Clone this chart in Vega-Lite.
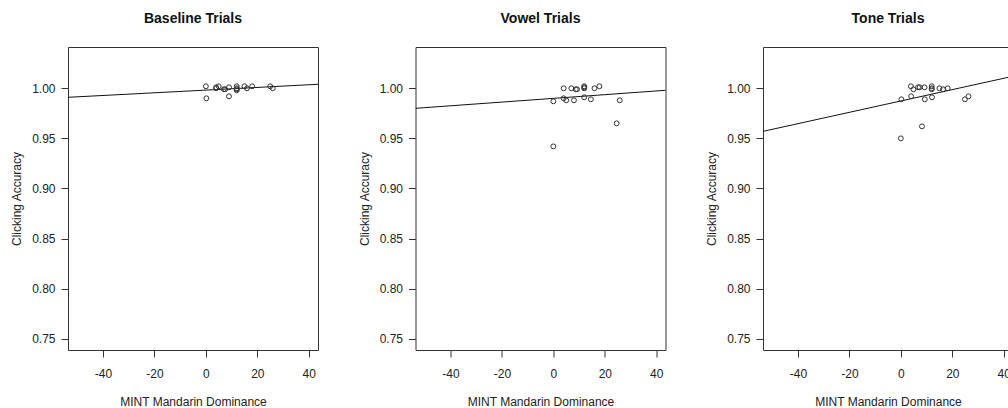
{
  "$schema": "https://vega.github.io/schema/vega-lite/v6.json",
  "background": "white",
  "padding": {"left": 10, "top": 11, "right": 0, "bottom": 0},
  "spacing": 97.5,
  "bounds": "flush",
  "datasets": {
    "pts": [
      {"panel": "Baseline", "x": 0, "y": 1.002}, {"panel": "Baseline", "x": 0.2, "y": 0.990},
      {"panel": "Baseline", "x": 4, "y": 1.001}, {"panel": "Baseline", "x": 4, "y": 1.000},
      {"panel": "Baseline", "x": 5, "y": 1.002}, {"panel": "Baseline", "x": 7, "y": 0.999},
      {"panel": "Baseline", "x": 7.5, "y": 0.999}, {"panel": "Baseline", "x": 9, "y": 1.001},
      {"panel": "Baseline", "x": 9, "y": 0.992}, {"panel": "Baseline", "x": 12, "y": 1.002},
      {"panel": "Baseline", "x": 12, "y": 1.000}, {"panel": "Baseline", "x": 12, "y": 0.998},
      {"panel": "Baseline", "x": 12, "y": 0.999}, {"panel": "Baseline", "x": 15, "y": 1.002},
      {"panel": "Baseline", "x": 16, "y": 1.000}, {"panel": "Baseline", "x": 18, "y": 1.002},
      {"panel": "Baseline", "x": 25, "y": 1.002}, {"panel": "Baseline", "x": 26, "y": 1.000},
      {"panel": "Vowel", "x": 0, "y": 0.987}, {"panel": "Vowel", "x": 0, "y": 0.942},
      {"panel": "Vowel", "x": 4, "y": 1.000}, {"panel": "Vowel", "x": 4, "y": 0.990},
      {"panel": "Vowel", "x": 5, "y": 0.988}, {"panel": "Vowel", "x": 7, "y": 1.000},
      {"panel": "Vowel", "x": 8, "y": 0.988}, {"panel": "Vowel", "x": 8.7, "y": 0.999},
      {"panel": "Vowel", "x": 9.2, "y": 0.999}, {"panel": "Vowel", "x": 12, "y": 1.000},
      {"panel": "Vowel", "x": 12, "y": 1.002}, {"panel": "Vowel", "x": 12, "y": 1.001},
      {"panel": "Vowel", "x": 12, "y": 0.991}, {"panel": "Vowel", "x": 14.6, "y": 0.989},
      {"panel": "Vowel", "x": 16, "y": 1.000}, {"panel": "Vowel", "x": 17.9, "y": 1.002},
      {"panel": "Vowel", "x": 24.6, "y": 0.965}, {"panel": "Vowel", "x": 25.8, "y": 0.988},
      {"panel": "Tone", "x": 0.2, "y": 0.989}, {"panel": "Tone", "x": 0, "y": 0.950},
      {"panel": "Tone", "x": 3.9, "y": 1.002}, {"panel": "Tone", "x": 4, "y": 0.992},
      {"panel": "Tone", "x": 4.9, "y": 0.999}, {"panel": "Tone", "x": 6.7, "y": 1.001},
      {"panel": "Tone", "x": 7.3, "y": 1.001}, {"panel": "Tone", "x": 8.2, "y": 0.962},
      {"panel": "Tone", "x": 9.2, "y": 1.001}, {"panel": "Tone", "x": 9.3, "y": 0.989},
      {"panel": "Tone", "x": 12, "y": 1.002}, {"panel": "Tone", "x": 12, "y": 1.000},
      {"panel": "Tone", "x": 12, "y": 0.999}, {"panel": "Tone", "x": 12.1, "y": 0.991},
      {"panel": "Tone", "x": 15, "y": 1.000}, {"panel": "Tone", "x": 16.4, "y": 0.999},
      {"panel": "Tone", "x": 18.2, "y": 1.000}, {"panel": "Tone", "x": 24.9, "y": 0.989},
      {"panel": "Tone", "x": 26.3, "y": 0.992}
    ],
    "fit": [
      {"panel": "Baseline", "x": -53.6, "y": 0.991}, {"panel": "Baseline", "x": 43.6, "y": 1.004},
      {"panel": "Vowel", "x": -53.6, "y": 0.980}, {"panel": "Vowel", "x": 43.6, "y": 0.998},
      {"panel": "Tone", "x": -53.6, "y": 0.957}, {"panel": "Tone", "x": 43.6, "y": 1.012}
    ]
  },
  "config": {
    "view": {"stroke": "#333", "strokeWidth": 1},
    "axis": {
      "domain": false, "grid": false, "tickSize": 7, "tickColor": "#333",
      "labelFont": "Liberation Sans", "labelFontSize": 12, "labelColor": "#222",
      "titleFont": "Liberation Sans", "titleFontSize": 12, "titleFontWeight": "normal", "titleColor": "#222"
    },
    "axisX": {"labelPadding": 11, "titlePadding": 17},
    "axisY": {"labelPadding": 6, "titlePadding": 8},
    "title": {"font": "Liberation Sans", "fontSize": 14, "fontWeight": "bold", "anchor": "middle", "offset": 21, "color": "#111"}
  },
  "hconcat": [
    {
      "width": 250, "height": 303,
      "title": "Baseline Trials",
      "layer": [
        {
          "data": {"name": "fit"},
          "transform": [{"filter": "datum.panel === 'Baseline'"}],
          "mark": {"type": "line", "color": "#111", "strokeWidth": 1, "clip": true},
          "encoding": {
            "x": {"field": "x", "type": "quantitative", "scale": {"domain": [-53.6, 43.6], "nice": false, "zero": false}, "axis": {"title": "MINT Mandarin Dominance", "values": [-40, -20, 0, 20, 40], "labelExpr": "datum.value < 0 ? '-' + abs(datum.value) : '' + datum.value"}},
            "y": {"field": "y", "type": "quantitative", "scale": {"domain": [0.7388, 1.0412], "nice": false, "zero": false}, "axis": {"title": "Clicking Accuracy", "values": [0.75, 0.8, 0.85, 0.9, 0.95, 1.0], "format": ".2f"}}
          }
        },
        {
          "data": {"name": "pts"},
          "transform": [{"filter": "datum.panel === 'Baseline'"}],
          "mark": {"type": "point", "shape": "circle", "filled": false, "size": 24, "stroke": "#333", "strokeWidth": 1, "opacity": 1},
          "encoding": {
            "x": {"field": "x", "type": "quantitative"},
            "y": {"field": "y", "type": "quantitative"}
          }
        }
      ]
    },
    {
      "width": 250, "height": 303,
      "title": "Vowel Trials",
      "layer": [
        {
          "data": {"name": "fit"},
          "transform": [{"filter": "datum.panel === 'Vowel'"}],
          "mark": {"type": "line", "color": "#111", "strokeWidth": 1, "clip": true},
          "encoding": {
            "x": {"field": "x", "type": "quantitative", "scale": {"domain": [-53.6, 43.6], "nice": false, "zero": false}, "axis": {"title": "MINT Mandarin Dominance", "values": [-40, -20, 0, 20, 40], "labelExpr": "datum.value < 0 ? '-' + abs(datum.value) : '' + datum.value"}},
            "y": {"field": "y", "type": "quantitative", "scale": {"domain": [0.7388, 1.0412], "nice": false, "zero": false}, "axis": {"title": "Clicking Accuracy", "values": [0.75, 0.8, 0.85, 0.9, 0.95, 1.0], "format": ".2f"}}
          }
        },
        {
          "data": {"name": "pts"},
          "transform": [{"filter": "datum.panel === 'Vowel'"}],
          "mark": {"type": "point", "shape": "circle", "filled": false, "size": 24, "stroke": "#333", "strokeWidth": 1, "opacity": 1},
          "encoding": {
            "x": {"field": "x", "type": "quantitative"},
            "y": {"field": "y", "type": "quantitative"}
          }
        }
      ]
    },
    {
      "width": 250, "height": 303,
      "title": "Tone Trials",
      "layer": [
        {
          "data": {"name": "fit"},
          "transform": [{"filter": "datum.panel === 'Tone'"}],
          "mark": {"type": "line", "color": "#111", "strokeWidth": 1, "clip": true},
          "encoding": {
            "x": {"field": "x", "type": "quantitative", "scale": {"domain": [-53.6, 43.6], "nice": false, "zero": false}, "axis": {"title": "MINT Mandarin Dominance", "values": [-40, -20, 0, 20, 40], "labelExpr": "datum.value < 0 ? '-' + abs(datum.value) : '' + datum.value"}},
            "y": {"field": "y", "type": "quantitative", "scale": {"domain": [0.7388, 1.0412], "nice": false, "zero": false}, "axis": {"title": "Clicking Accuracy", "values": [0.75, 0.8, 0.85, 0.9, 0.95, 1.0], "format": ".2f"}}
          }
        },
        {
          "data": {"name": "pts"},
          "transform": [{"filter": "datum.panel === 'Tone'"}],
          "mark": {"type": "point", "shape": "circle", "filled": false, "size": 24, "stroke": "#333", "strokeWidth": 1, "opacity": 1},
          "encoding": {
            "x": {"field": "x", "type": "quantitative"},
            "y": {"field": "y", "type": "quantitative"}
          }
        }
      ]
    }
  ]
}
